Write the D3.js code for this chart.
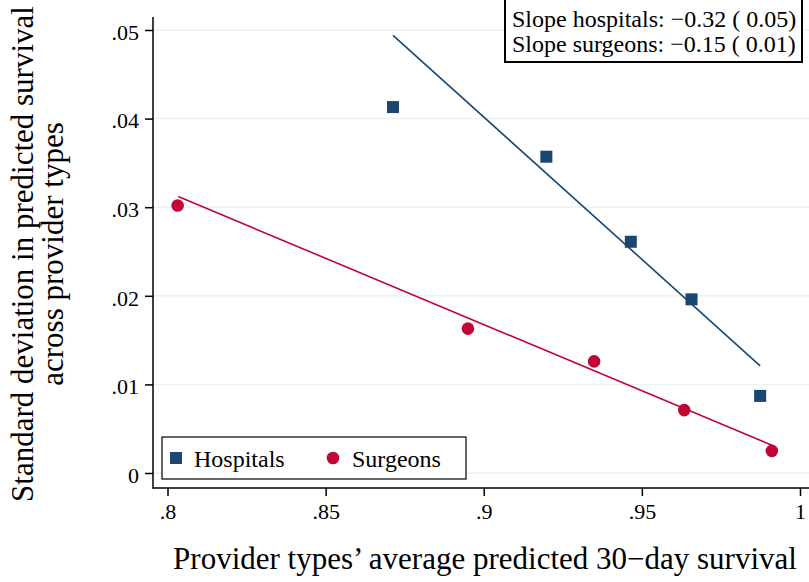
<!DOCTYPE html>
<html>
<head>
<meta charset="utf-8">
<script src="https://cdn.jsdelivr.net/npm/d3@7"></script>
<style>
  html, body { margin: 0; padding: 0; background: #fff; }
  svg { display: block; font-family: "Liberation Serif", "Times New Roman", serif; }
</style>
</head>
<body>
<div id="chart"></div>
<script>
// Data
const hospX = [0.8713, 0.9198, 0.9465, 0.9657, 0.9874];
const hospY = [0.0413, 0.0357, 0.0261, 0.0196, 0.0087];
const surgX = [0.8032, 0.8950, 0.9349, 0.9634, 0.9911];
const surgY = [0.0302, 0.0163, 0.0126, 0.0071, 0.0025];

// fitted lines (endpoints as drawn in the reference)
const hospFit = [[0.8713, 0.0494], [0.9874, 0.0121]];
const surgFit = [[0.8034, 0.0312], [0.9913, 0.0031]];

const xTicks = [0.8, 0.85, 0.9, 0.95, 1];
const xTickLabels = ['.8', '.85', '.9', '.95', '1'];
const yTicks = [0, 0.01, 0.02, 0.03, 0.04, 0.05];
const yTickLabels = ['0', '.01', '.02', '.03', '.04', '.05'];

const seriesNames = ['Hospitals', 'Surgeons'];
const slopeLabels = ['Slope hospitals: \u22120.32 ( 0.05)', 'Slope surgeons: \u22120.15 ( 0.01)'];

const navy = '#1a476f';
const cranberry = '#c10534';
const gridColor = '#eaf2f3';
const serif = '"Liberation Serif", "Times New Roman", serif';

const W = 809, H = 582;

const svg = d3.select('#chart')
  .append('svg')
  .attr('width', W)
  .attr('height', H);

const x = d3.scaleLinear().domain([0.8, 1]).range([167.5, 800]);
const y = d3.scaleLinear().domain([0, 0.05]).range([473, 30]);

const axisLeftX = 153;
const axisBottomY = 488;

// Grid lines
svg.append('g')
  .selectAll('line')
  .data(yTicks)
  .enter()
  .append('line')
  .attr('x1', axisLeftX)
  .attr('x2', W)
  .attr('y1', (d) => y(d))
  .attr('y2', (d) => y(d))
  .attr('stroke', gridColor)
  .attr('stroke-width', 1.5);

// Fit lines
const line = d3.line()
  .x((d) => x(d[0]))
  .y((d) => y(d[1]));

svg.append('path')
  .datum(hospFit)
  .attr('fill', 'none')
  .attr('stroke', navy)
  .attr('stroke-width', 1.6)
  .attr('d', line);

svg.append('path')
  .datum(surgFit)
  .attr('fill', 'none')
  .attr('stroke', cranberry)
  .attr('stroke-width', 1.6)
  .attr('d', line);

// Markers
const sq = 12;
svg.append('g')
  .selectAll('rect')
  .data(hospX.map((d, i) => [d, hospY[i]]))
  .enter()
  .append('rect')
  .attr('x', (d) => x(d[0]) - sq / 2)
  .attr('y', (d) => y(d[1]) - sq / 2)
  .attr('width', sq)
  .attr('height', sq)
  .attr('fill', navy);

svg.append('g')
  .selectAll('circle')
  .data(surgX.map((d, i) => [d, surgY[i]]))
  .enter()
  .append('circle')
  .attr('cx', (d) => x(d[0]))
  .attr('cy', (d) => y(d[1]))
  .attr('r', 6.3)
  .attr('fill', cranberry);

// Axes
const xAxis = svg.append('g')
  .attr('transform', `translate(0,${axisBottomY})`)
  .call(d3.axisBottom(x)
    .tickValues(xTicks)
    .tickFormat((d, i) => xTickLabels[i])
    .tickSizeOuter(0)
    .tickSize(8)
    .tickPadding(7));
xAxis.select('.domain').remove();

const yAxis = svg.append('g')
  .attr('transform', `translate(${axisLeftX},0)`)
  .call(d3.axisLeft(y)
    .tickValues(yTicks)
    .tickFormat((d, i) => yTickLabels[i])
    .tickSizeOuter(0)
    .tickSize(8)
    .tickPadding(6));
yAxis.select('.domain').remove();
yAxis.selectAll('.tick text').attr('dy', '0.42em');

svg.selectAll('.tick line').attr('stroke', '#000').attr('stroke-width', 1.5);
svg.selectAll('g').attr('font-family', null);
svg.selectAll('.tick text')
  .attr('fill', '#000')
  .style('font-family', serif)
  .style('font-size', '22px');

// axis lines
svg.append('line')
  .attr('x1', axisLeftX).attr('x2', axisLeftX)
  .attr('y1', 17).attr('y2', axisBottomY + 0.75)
  .attr('stroke', '#000').attr('stroke-width', 1.5);
svg.append('line')
  .attr('x1', axisLeftX).attr('x2', W)
  .attr('y1', axisBottomY).attr('y2', axisBottomY)
  .attr('stroke', '#000').attr('stroke-width', 1.5);

// Axis titles
svg.append('text')
  .attr('x', 485)
  .attr('y', 569)
  .attr('text-anchor', 'middle')
  .style('font-size', '31px')
  .text('Provider types\u2019 average predicted 30\u2212day survival');

const yTitle = svg.append('text')
  .attr('transform', 'translate(0,254) rotate(-90)')
  .attr('text-anchor', 'middle')
  .style('font-size', '31px');
yTitle.append('tspan').attr('x', 0).attr('y', 33).text('Standard deviation in predicted survival');
yTitle.append('tspan').attr('x', 0).attr('y', 63).text('across provider types');

// Legend
svg.append('rect')
  .attr('x', 162).attr('y', 437)
  .attr('width', 304).attr('height', 42)
  .attr('fill', '#fff')
  .attr('stroke', '#000')
  .attr('stroke-width', 1.2);

svg.append('rect')
  .attr('x', 176 - sq / 2).attr('y', 458 - sq / 2)
  .attr('width', sq).attr('height', sq)
  .attr('fill', navy);
svg.append('text')
  .attr('x', 194).attr('y', 467)
  .style('font-size', '24px')
  .text(seriesNames[0]);

svg.append('circle')
  .attr('cx', 333).attr('cy', 458)
  .attr('r', 6.3)
  .attr('fill', cranberry);
svg.append('text')
  .attr('x', 352).attr('y', 467)
  .style('font-size', '24px')
  .text(seriesNames[1]);

// Slope annotation box
svg.append('rect')
  .attr('x', 505).attr('y', -1)
  .attr('width', 297).attr('height', 63)
  .attr('fill', '#fff')
  .attr('stroke', '#000')
  .attr('stroke-width', 2);

svg.append('g')
  .selectAll('text')
  .data(slopeLabels)
  .enter()
  .append('text')
  .attr('x', 512)
  .attr('y', (d, i) => 27 + i * 25)
  .style('font-size', '24px')
  .text((d) => d);
</script>
</body>
</html>
